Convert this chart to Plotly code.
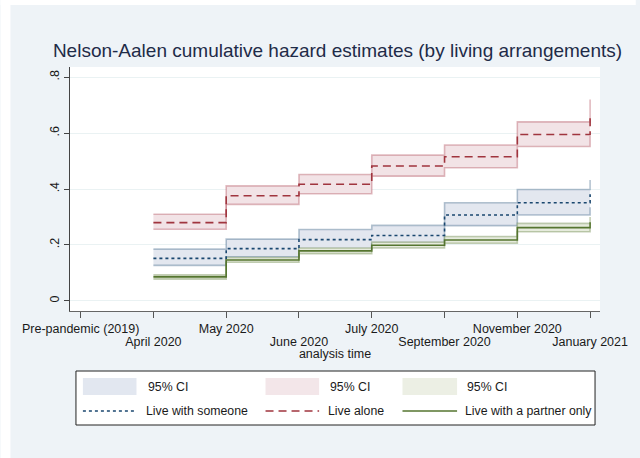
import plotly.graph_objects as go

# ---- data ----
tick_vals = [0, 1, 2, 3, 4, 5, 6, 7]
tick_labels = ["Pre-pandemic (2019)", "April 2020", "May 2020", "June 2020",
               "July 2020", "September 2020", "November 2020", "January 2021"]
times = [1, 2, 3, 4, 5, 6, 7]

someone_est = [0.152, 0.187, 0.219, 0.234, 0.307, 0.351, 0.381]
someone_hi = [0.185, 0.221, 0.255, 0.270, 0.351, 0.398, 0.432]
someone_lo = [0.127, 0.158, 0.186, 0.205, 0.269, 0.307, 0.335]

alone_est = [0.280, 0.376, 0.417, 0.482, 0.515, 0.595, 0.655]
alone_hi = [0.310, 0.411, 0.452, 0.521, 0.557, 0.640, 0.720]
alone_lo = [0.256, 0.345, 0.383, 0.446, 0.476, 0.552, 0.590]

partner_est = [0.086, 0.146, 0.179, 0.199, 0.218, 0.262, 0.281]
partner_hi = [0.093, 0.155, 0.189, 0.210, 0.230, 0.277, 0.300]
partner_lo = [0.078, 0.138, 0.169, 0.189, 0.206, 0.247, 0.262]

y_ticks = [0, 0.2, 0.4, 0.6, 0.8]
y_labels = ["0", ".2", ".4", ".6", ".8"]

# ---- styles ----
FONT = "Liberation Sans, Arial, sans-serif"
PANEL = "#EEF3F7"
W, H = 640, 458
ML, MR, MT, MB = 70, 36, 67, 147
PW, PH = W - ML - MR, H - MT - MB
TICK_FS = 12.5
LEG_FS = 12.3

series = [
    dict(name="Live with someone", est=someone_est, hi=someone_hi, lo=someone_lo,
         line="#1A476F", dash="3px,3px", band_line="rgba(26,71,111,0.32)",
         band_fill="#E3E7EF", swatch="#E2E7F0"),
    dict(name="Live alone", est=alone_est, hi=alone_hi, lo=alone_lo,
         line="#A0353E", dash="8px,5px", band_line="rgba(170,60,75,0.35)",
         band_fill="#F2E3E6", swatch="#F3E6E9"),
    dict(name="Live with a partner only", est=partner_est, hi=partner_hi, lo=partner_lo,
         line="#55752F", dash="solid", band_line="rgba(85,117,47,0.35)",
         band_fill="#E6EBDD", swatch="#ECEFE4"),
]

fig = go.Figure()

for s in series:
    fig.add_trace(go.Scatter(x=times, y=s["hi"], mode="lines", line_shape="hv",
                             line=dict(color=s["band_line"], width=1.6),
                             showlegend=False, hoverinfo="skip"))
    fig.add_trace(go.Scatter(x=times, y=s["lo"], mode="lines", line_shape="hv",
                             line=dict(color=s["band_line"], width=1.6),
                             fill="tonexty", fillcolor=s["band_fill"],
                             showlegend=False, hoverinfo="skip"))

for s in series:
    fig.add_trace(go.Scatter(x=times, y=s["est"], mode="lines", line_shape="hv",
                             line=dict(color=s["line"], width=1.6, dash=s["dash"]),
                             name=s["name"], showlegend=False))


def px(x):
    return (x - ML) / PW


def py(y):
    return (H - MB - y) / PH


shapes = []
annotations = []

# white strips at left and top of the image, outside the grey-blue panel
shapes.append(dict(type="rect", xref="paper", yref="paper", x0=px(0), x1=px(10),
                   y0=py(H), y1=py(0), fillcolor="white", line_width=0, layer="below"))
shapes.append(dict(type="rect", xref="paper", yref="paper", x0=px(0), x1=px(W),
                   y0=py(5), y1=py(0), fillcolor="white", line_width=0, layer="below"))

# legend box
shapes.append(dict(type="rect", xref="paper", yref="paper", x0=px(76), x1=px(599),
                   y0=py(425), y1=py(371), fillcolor="white",
                   line=dict(color="#222222", width=1)))
cols = [(83, 137, 147), (267, 321, 330), (405, 460, 468)]
for (sx0, sx1, tx), s in zip(cols, series):
    shapes.append(dict(type="rect", xref="paper", yref="paper", x0=px(sx0), x1=px(sx1),
                       y0=py(395), y1=py(378), fillcolor=s["swatch"], line_width=0))
    shapes.append(dict(type="line", xref="paper", yref="paper", x0=px(sx0), x1=px(sx1),
                       y0=py(411), y1=py(411),
                       line=dict(color=s["line"], width=1.6, dash=s["dash"])))
    annotations.append(dict(text="95% CI", xref="paper", yref="paper", x=px(tx), y=py(387),
                            xanchor="left", yanchor="middle", showarrow=False,
                            font=dict(family=FONT, size=LEG_FS, color="#1a1a1a")))
    annotations.append(dict(text=s["name"], xref="paper", yref="paper", x=px(tx - 2), y=py(411),
                            xanchor="left", yanchor="middle", showarrow=False,
                            font=dict(family=FONT, size=LEG_FS, color="#1a1a1a")))

# alternate tick labels on two rows: even ones on the main axis, odd ones on an overlay axis
upper_text = [t if i % 2 == 0 else "" for i, t in enumerate(tick_labels)]
lower_vals = [v for i, v in enumerate(tick_vals) if i % 2 == 1]
lower_text = [t for i, t in enumerate(tick_labels) if i % 2 == 1]

XR = [-0.146, 7.136]
fig.update_layout(
    width=W, height=H,
    margin=dict(l=ML, r=MR, t=MT, b=MB),
    paper_bgcolor=PANEL, plot_bgcolor="white",
    font=dict(family=FONT, size=12, color="#1a1a1a"),
    title=dict(text="Nelson-Aalen cumulative hazard estimates (by living arrangements)",
               xref="container", x=337.5 / W, xanchor="center",
               yref="container", y=1 - 50 / H, yanchor="middle",
               font=dict(family=FONT, size=19, color="#1E2B48")),
    shapes=shapes, annotations=annotations,
    showlegend=False,
    xaxis=dict(range=XR, tickvals=tick_vals, ticktext=upper_text,
               ticks="outside", ticklen=6, tickcolor="#555555", showgrid=False,
               showline=True, linecolor="#666666", linewidth=1.2, zeroline=False,
               tickfont=dict(family=FONT, size=TICK_FS, color="#1a1a1a"), tickangle=0,
               title=dict(text="analysis time", standoff=14,
                          font=dict(family=FONT, size=TICK_FS, color="#1a1a1a"))),
    xaxis2=dict(range=XR, overlaying="x", anchor="y", side="bottom",
                tickvals=lower_vals, ticktext=lower_text,
                ticks="outside", ticklen=19, tickcolor="rgba(0,0,0,0)",
                showline=False, showgrid=False, zeroline=False, tickangle=0,
                tickfont=dict(family=FONT, size=TICK_FS, color="#1a1a1a")),
    yaxis=dict(range=[-0.036, 0.836], tickvals=y_ticks, ticktext=y_labels,
               ticks="outside", ticklen=5, tickcolor="#444444", tickangle=-90,
               showgrid=True, gridcolor="#EAF2F3", gridwidth=1,
               showline=True, linecolor="#444444", linewidth=1.2, zeroline=False,
               tickfont=dict(family=FONT, size=TICK_FS, color="#1a1a1a")),
)
# invisible trace to activate the overlay axis carrying the lower row of labels
fig.add_trace(go.Scatter(x=[tick_vals[0]], y=[y_ticks[0]], xaxis="x2", mode="markers",
                         marker=dict(opacity=0), showlegend=False, hoverinfo="skip"))

fig.write_html("out.html", config={"displayModeBar": False},
               post_script="document.body.style.margin='0';")
